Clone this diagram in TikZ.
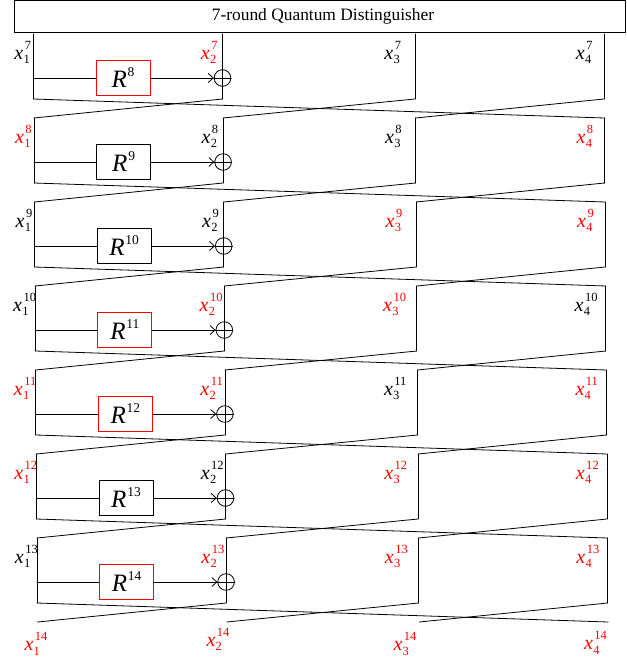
\documentclass[tikz,border=0pt]{standalone}
\usepackage{fontspec}
\setmainfont{Liberation Serif}
\usetikzlibrary{arrows.meta}
\newcommand\xlab[2]{\textit{x}\kern0.3pt{\fontsize{12.5}{13}\selectfont\ooalign{\raisebox{10pt}{\kern1.2pt#2}\cr\raisebox{-4.5pt}{#1}\cr}}}
\newcommand\rlab[1]{\textit{R}\kern0.8pt\raisebox{11pt}{\fontsize{13.5}{14}\selectfont#1}}
\begin{document}
\begin{tikzpicture}[x=1pt,y=-1pt,line width=0.8pt,line cap=round,
  rbox/.style={draw,minimum width=54pt,minimum height=35pt,inner sep=0pt,font=\fontsize{25}{28}\selectfont},
  xorc/.style={draw,circle,minimum size=16.6pt,inner sep=0pt},
  lab/.style={inner sep=0pt,font=\fontsize{20}{24}\selectfont},
  arr/.style={-{Straight Barb[length=5pt,width=9pt]}},
  titlebox/.style={draw,minimum width=611pt,minimum height=31.5pt,inner sep=0pt,font=\fontsize{17.4}{20}\selectfont}]
\useasboundingbox (0,0) rectangle (626,660);
\node[titlebox] (title) at (320,16.25) {\hspace*{6pt}7-round Quantum Distinguisher};
\foreach \k/\ca/\cb/\cc/\cd/\rc in {0/black/red/black/black/red,1/red/black/black/red/black,2/black/black/red/red/black,3/black/red/red/black/red,4/red/red/black/red/red,5/red/black/red/red/black,6/black/red/red/red/red}{
  \pgfmathsetmacro\T{34+84*\k}
  \pgfmathsetmacro\B{99+84*\k}
  \pgfmathsetmacro\H{78+84*\k}
  \pgfmathsetmacro\dx{0.6*\k}
  \pgfmathtruncatemacro\s{7+\k}
  \pgfmathtruncatemacro\r{8+\k}
  \begin{scope}[xshift=\dx pt]
    \coordinate (t1-\k) at (33.3,\T); \coordinate (b1-\k) at (33.3,\B);
    \coordinate (t2-\k) at (222.5,\T); \coordinate (b2-\k) at (222.5,\B);
    \coordinate (t3-\k) at (415,\T); \coordinate (b3-\k) at (415,\B);
    \coordinate (t4-\k) at (604,\T); \coordinate (b4-\k) at (604,\B);
    \coordinate (h1-\k) at (33.3,\H);
    \node[rbox,draw=\rc] (R-\k) at (123,\H) {\rlab{\r}};
    \node[xorc] (c-\k) at (222.5,\H) {};
    \node[lab,text=\ca] (l1-\k) at (22.8,\T+18.5) {\xlab{1}{\s}};
    \node[lab,text=\cb] (l2-\k) at (209.3,\T+18.5) {\xlab{2}{\s}};
    \node[lab,text=\cc] (l3-\k) at (392.8,\T+18.5) {\xlab{3}{\s}};
    \node[lab,text=\cd] (l4-\k) at (584.3,\T+18.5) {\xlab{4}{\s}};
  \end{scope}
  \draw (t1-\k) -- (b1-\k);
  \draw (t2-\k) -- (b2-\k);
  \draw (t3-\k) -- (b3-\k);
  \draw (t4-\k) -- (b4-\k);
  \draw (h1-\k) -- (R-\k.west);
  \draw[arr] (R-\k.east) -- (c-\k.west);
  \draw (c-\k.west) -- (c-\k.east);
}
\coordinate (t1-7) at (37.5,622);
\coordinate (t2-7) at (226.7,622);
\coordinate (t3-7) at (419.2,622);
\coordinate (t4-7) at (608.2,622);
\foreach \k in {0,...,6}{
  \pgfmathtruncatemacro\kk{\k+1}
  \draw (b1-\k) -- (t4-\kk);
  \draw (b2-\k) -- (t1-\kk);
  \draw (b3-\k) -- (t2-\kk);
  \draw (b4-\k) -- (t3-\kk);
}
\node[lab,text=red] (l1-7) at (36,644) {\xlab{1}{14}};
\node[lab,text=red] (l2-7) at (218,639.5) {\xlab{2}{14}};
\node[lab,text=red] (l3-7) at (405,644) {\xlab{3}{14}};
\node[lab,text=red] (l4-7) at (595.5,643) {\xlab{4}{14}};
\end{tikzpicture}
\end{document}
